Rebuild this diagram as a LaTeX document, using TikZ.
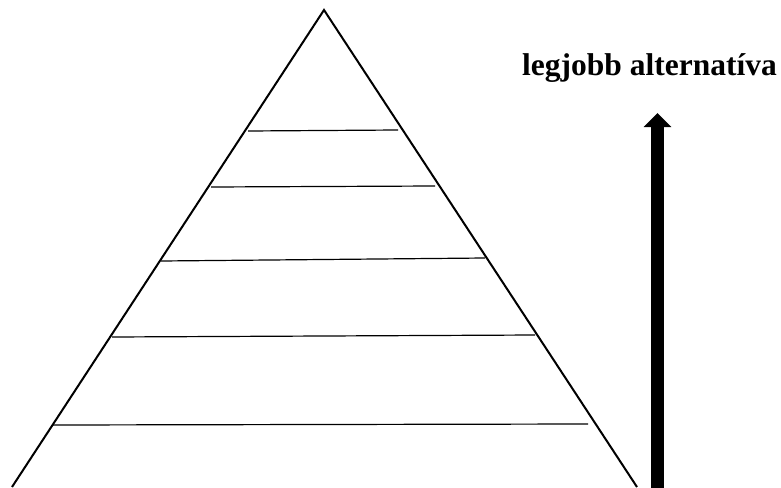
\documentclass[tikz,border=0pt]{standalone}
\usepackage{fontspec}
\setmainfont{Liberation Serif}
\usetikzlibrary{arrows.meta,positioning}

\begin{document}
\begin{tikzpicture}[
  x=1pt,y=-1pt,
  lado/.style={draw=black,line width=2pt,line join=miter},
  nivel/.style={draw=black,line width=1.2pt},
  flecha/.style={line width=13pt,-{Triangle[width=27pt,length=14pt]}},
  rotulo/.style={font=\fontsize{31.5}{36}\selectfont\bfseries,inner sep=0pt,anchor=base}
]
  \useasboundingbox (0,0) rectangle (781,487);
  % Piramide
  \coordinate (cima) at (324,10);
  \coordinate (izq) at (12,487);
  \coordinate (der) at (637,487);
  \draw[lado] (izq) -- (cima) -- (der);
  % Niveles
  \foreach \xa/\ya/\xb/\yb in {248/131/398/130,211/187/435/186,161/261/485/258,112/337/535/335,53/425/588/424}
    {\draw[nivel] (\xa,\ya) -- (\xb,\yb);}
  % Flecha hacia la mejor alternativa
  \node[rotulo] (mejor) at (649.5,75) {legjobb alternatíva};
  \coordinate (base) at (657.5,500);
  \coordinate (punta) at (657.5,113);
  \draw[flecha] (base) -- (punta);
\end{tikzpicture}
\end{document}
